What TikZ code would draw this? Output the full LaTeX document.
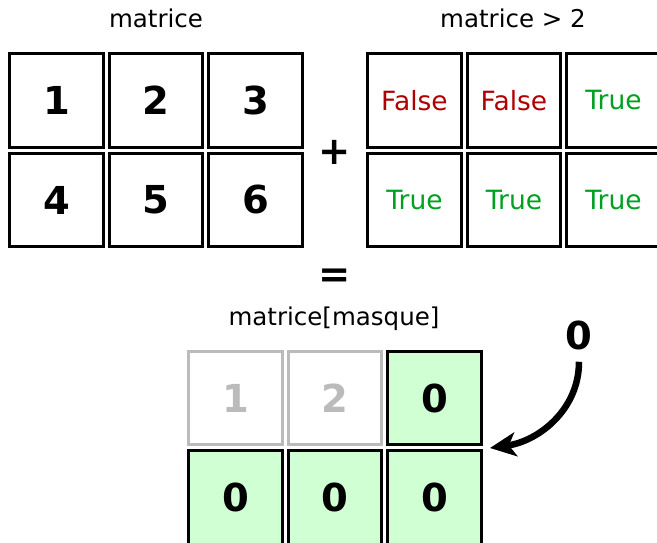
\documentclass[tikz,border=0pt]{standalone}
\usepackage{fontspec}
\setmainfont{DejaVu Sans}
\usetikzlibrary{arrows.meta}
\definecolor{falsered}{HTML}{B00000}
\definecolor{truegreen}{HTML}{00A020}
\definecolor{cellgreen}{HTML}{D0FFD4}
\definecolor{dimgray}{HTML}{BBBBBB}
\tikzset{
  cell/.style={draw=black, line width=3pt, minimum width=93.5pt, minimum height=93.5pt, inner sep=0pt},
  numtext/.style={font=\fontsize{38.5}{44}\selectfont\bfseries},
  bool/.style={font=\fontsize{26.5}{30}\selectfont},
  lbl/.style={font=\fontsize{24.5}{28}\selectfont, anchor=base, inner sep=0pt},
  dimcell/.style={cell, draw=dimgray, text=dimgray},
  greencell/.style={cell, fill=cellgreen},
  op/.style={font=\fontsize{38.5}{44}\selectfont\bfseries, inner sep=0pt}
}
\begin{document}
\begin{tikzpicture}[x=1pt, y=-1pt]
\clip (0,0) rectangle (657,543);
\fill[white] (0,0) rectangle (657,543);
% labels
\node[lbl] (l1) at (156,28) {matrice};
\node[lbl] (l2) at (513,28) {matrice > 2};
\node[lbl] (l3) at (334,325) {matrice[masque]};
% left matrix
\node[cell, numtext] (a11) at (56.5,100.5) {1};
\node[cell, numtext] (a12) at (156,100.5) {2};
\node[cell, numtext] (a13) at (255.5,100.5) {3};
\node[cell, numtext] (a21) at (56.5,200) {4};
\node[cell, numtext] (a22) at (156,200) {5};
\node[cell, numtext] (a23) at (255.5,200) {6};
% right matrix
\node[cell, bool, text=falsered] (b11) at (414.5,100.5) {False};
\node[cell, bool, text=falsered] (b12) at (514,100.5) {False};
\node[cell, bool, text=truegreen] (b13) at (613.5,100.5) {True};
\node[cell, bool, text=truegreen] (b21) at (414.5,200) {True};
\node[cell, bool, text=truegreen] (b22) at (514,200) {True};
\node[cell, bool, text=truegreen] (b23) at (613.5,200) {True};
% operators
\node[op] (plus) at (335,152) {+};
\node[op] (eq) at (335,278) {=};
% result matrix
\node[dimcell, numtext] (c11) at (235.5,398) {1};
\node[dimcell, numtext] (c12) at (335,398) {2};
\node[greencell, numtext] (c13) at (434.5,398) {0};
\node[greencell, numtext] (c21) at (235.5,497.5) {0};
\node[greencell, numtext] (c22) at (335,497.5) {0};
\node[greencell, numtext] (c23) at (434.5,497.5) {0};
% zero label and arrow
\node[op] (zero) at (579,335) {0};
\coordinate (tip) at (490,448);
\draw[line width=6.5pt, -{Stealth[length=26pt, width=24pt, inset=7pt]}]
  ([yshift=-12pt]zero.south) to[out=-90, in=8] (tip);
\end{tikzpicture}
\end{document}
